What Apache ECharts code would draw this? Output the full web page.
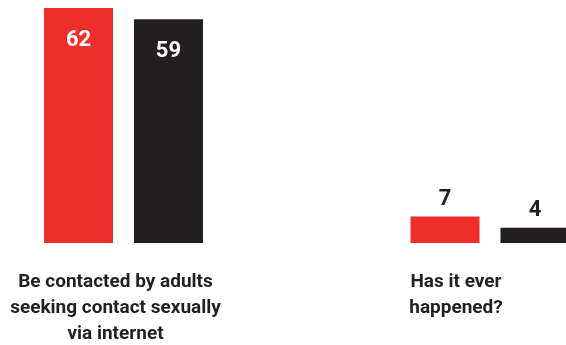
<!DOCTYPE html>
<html>
<head>
<meta charset="utf-8">
<script src="https://cdn.jsdelivr.net/npm/echarts@6/dist/echarts.min.js"></script>
<style>
  html, body { margin: 0; padding: 0; background: #fff; }
  #chart { width: 566px; height: 345px; }
</style>
</head>
<body>
<div id="chart"></div>
<script>
// chart data
var categories = ['Be contacted by adults\nseeking contact sexually\nvia internet', 'Has it ever\nhappened?'];
var redValues = [62, 7];
var blackValues = [59, 4];
// labels are nudged left a bit, like in the original
var labelShift = [16, 68];

var RED = '#ee2e2a';
var BLACK = '#231f20';
var FONT = 'Roboto';

function toItems(values) {
  return values.map(function (v) {
    var big = v > 20;
    return {
      value: v,
      label: big
        ? { position: 'insideTop', distance: 21, color: '#fff' }
        : { position: 'top', distance: 6, color: BLACK }
    };
  });
}

var myChart = echarts.init(document.getElementById('chart'));
myChart.setOption({
  animation: false,
  grid: { left: 123.5, right: 76, top: 8, bottom: 102, outerBoundsMode: 'none' },
  xAxis: {
    type: 'category',
    data: categories,
    boundaryGap: false,
    axisLine: { show: false },
    axisTick: { show: false },
    axisLabel: {
      margin: 26,
      interval: 0,
      formatter: function (val, idx) {
        return val.split('\n').map(function (l) { return '{s' + idx + '|' + l + '}'; }).join('\n');
      },
      rich: {
        s0: { fontFamily: FONT, fontWeight: 'bold', fontSize: 19, lineHeight: 26, color: BLACK, padding: [0, labelShift[0], 0, 0] },
        s1: { fontFamily: FONT, fontWeight: 'bold', fontSize: 19, lineHeight: 26, color: BLACK, padding: [0, labelShift[1], 0, 0] }
      }
    }
  },
  yAxis: {
    type: 'value',
    min: 0,
    max: 62,
    show: false,
    splitLine: { show: false }
  },
  series: [
    {
      type: 'bar',
      data: toItems(redValues),
      barWidth: 69,
      barGap: '30.4%',
      itemStyle: { color: RED },
      label: { show: true, fontFamily: FONT, fontWeight: 'bold', fontSize: 22 }
    },
    {
      type: 'bar',
      data: toItems(blackValues),
      barWidth: 69,
      itemStyle: { color: BLACK },
      label: { show: true, fontFamily: FONT, fontWeight: 'bold', fontSize: 22 }
    }
  ]
});
</script>
</body>
</html>
